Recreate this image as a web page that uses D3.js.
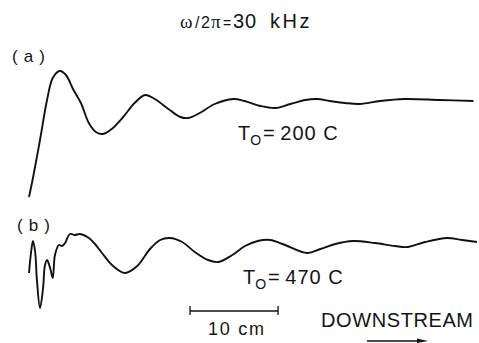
<!DOCTYPE html>
<html>
<head>
<meta charset="utf-8">
<script src="https://cdn.jsdelivr.net/npm/d3@7"></script>
<style>
  body { margin: 0; background: #fff; }
  svg { display: block; font-family: "Liberation Sans", Arial, sans-serif; }
  text { fill: #151515; }
</style>
</head>
<body>
<div id="chart"></div>
<script>
const width = 479, height = 343;

// distance downstream (cm) and amplitude (arb. units)
const distA = [0, 0.45, 1.25, 2.05, 2.7, 3.5, 4.2, 5.0, 5.9, 6.8, 7.6, 8.4, 9.4, 10.7, 12.0, 13.2, 14.3,
               16.0, 17.2, 18.1, 19.4, 21.1, 23.2, 24.5, 26.3, 28.0, 29.7, 31.4, 32.7, 34.2, 35.9, 37.6,
               39.9, 42.7, 46.7, 50.5];
const ampA  = [-9.6, -7.7, -3.9, 0.1, 2.3, 3.0, 2.6, 1.2, -0.2, -2.2, -3.1, -3.3, -2.8, -1.6, -0.2, 0.6, 0.2,
               -0.9, -1.6, -1.7, -1.2, -0.3, 0.2, 0.0, -0.5, -0.7, -0.3, 0.1, 0.2, 0.0, -0.2, -0.3,
               0.0, 0.2, 0.1, 0.0];

const distB = [0, 0.2, 0.45, 0.7, 0.9, 1.25, 1.6, 1.8, 2.05, 2.4, 2.7, 2.95, 3.4, 3.75, 4.1, 4.65, 5.2, 5.8,
               6.8, 7.5, 8.3, 9.55, 10.9, 12.3, 13.75, 14.9, 16.0, 17.4, 18.85, 20.35, 21.5, 23.1, 24.55,
               26.0, 27.4, 29.1, 31.6, 33.1, 34.8, 36.8, 39.3, 41.6, 43.0, 45.0, 47.5, 49.2, 50.9];
const ampB  = [-2.6, -0.8, 0.6, -0.5, -3.3, -6.1, -4.1, -1.9, -1.3, -2.1, -3.1, -0.8, 0.2, 0.1, 0.4, 1.3, 1.2, 1.3,
               0.9, 0.3, -0.6, -1.9, -2.6, -1.9, -0.2, 0.7, 0.9, 0.5, -0.5, -1.3, -1.5, -0.8, 0.1,
               0.6, 0.7, 0.2, -0.6, -0.2, 0.3, 0.6, 0.4, 0.1, 0.0, 0.5, 0.9, 0.7, 0.5];

const scaleBar = [18.3, 28.3]; // 10 cm

const svg = d3.select("#chart").append("svg")
    .attr("width", width)
    .attr("height", height);

const x = d3.scaleLinear().domain([0, 50]).range([29, 469]);
const ya = d3.scaleLinear().domain([-10, 3]).range([201, 71]);
const yb = d3.scaleLinear().domain([-6, 1]).range([307, 237]);

function trace(dist, amp, y) {
    const pts = dist.map((d, i) => [x(d), y(amp[i])]);
    svg.append("path")
        .attr("d", d3.line().curve(d3.curveCatmullRom.alpha(0.5))(pts))
        .attr("fill", "none")
        .attr("stroke", "#111")
        .attr("stroke-width", 1.9)
        .attr("stroke-linejoin", "round");
}
trace(distA, ampA, ya);
trace(distB, ampB, yb);

// title, glyphs placed one by one like the scan
const title = svg.append("text").attr("y", 28);
title.append("tspan").attr("x", 180).style("font-family", "'Liberation Serif', serif").style("font-size", "19px").text("ω");
title.append("tspan").attr("x", 195).style("font-size", "16px").text("/");
title.append("tspan").attr("x", 201).style("font-size", "16px").text("2");
title.append("tspan").attr("x", 211).style("font-family", "'Liberation Serif', serif").style("font-size", "19px").text("π");
title.append("tspan").attr("x", 223).style("font-size", "14px").text("=");
title.append("tspan").attr("x", 233).style("font-size", "20px").attr("letter-spacing", 1).text("30");
title.append("tspan").attr("x", 270).style("font-size", "20px").attr("letter-spacing", 2.5).text("kHz");

// panel labels
svg.append("text").attr("x", 12).attr("y", 62).style("font-size", "17px")
    .attr("textLength", 33).attr("lengthAdjust", "spacing").text("(a)");
svg.append("text").attr("x", 17).attr("y", 231).style("font-size", "17px")
    .attr("textLength", 33).attr("lengthAdjust", "spacing").text("(b)");

function tLabel(xp, yp, val) {
    const t = svg.append("text").attr("x", xp).attr("y", yp).style("font-size", "20px");
    t.append("tspan").text("T");
    t.append("tspan").attr("dy", 5).style("font-size", "14px").text("O");
    t.append("tspan").attr("dy", -5).attr("dx", 2).text("= ");
    t.append("tspan").attr("letter-spacing", 1).text(val + " C");
}
tLabel(238, 140, "200");
tLabel(243, 284, "470");

// scale bar
const sy = 311;
svg.append("line").attr("x1", x(scaleBar[0])).attr("x2", x(scaleBar[1]))
    .attr("y1", sy).attr("y2", sy).attr("stroke", "#111").attr("stroke-width", 1.3);
scaleBar.forEach(d => {
    svg.append("line").attr("x1", x(d)).attr("x2", x(d))
        .attr("y1", sy - 5).attr("y2", sy + 4).attr("stroke", "#111").attr("stroke-width", 1.3);
});
svg.append("text").attr("x", 208).attr("y", 335).style("font-size", "18px")
    .attr("textLength", 56).attr("lengthAdjust", "spacing").text("10 cm");

// downstream
svg.append("text").attr("x", 321).attr("y", 327).style("font-size", "20px")
    .attr("textLength", 152).attr("lengthAdjust", "spacing").text("DOWNSTREAM");
svg.append("line").attr("x1", 367).attr("x2", 421).attr("y1", 341).attr("y2", 341)
    .attr("stroke", "#111").attr("stroke-width", 1.5);
svg.append("path").attr("d", "M417,338.5 L428,341 L417,343 Z").attr("fill", "#111");
</script>
</body>
</html>
